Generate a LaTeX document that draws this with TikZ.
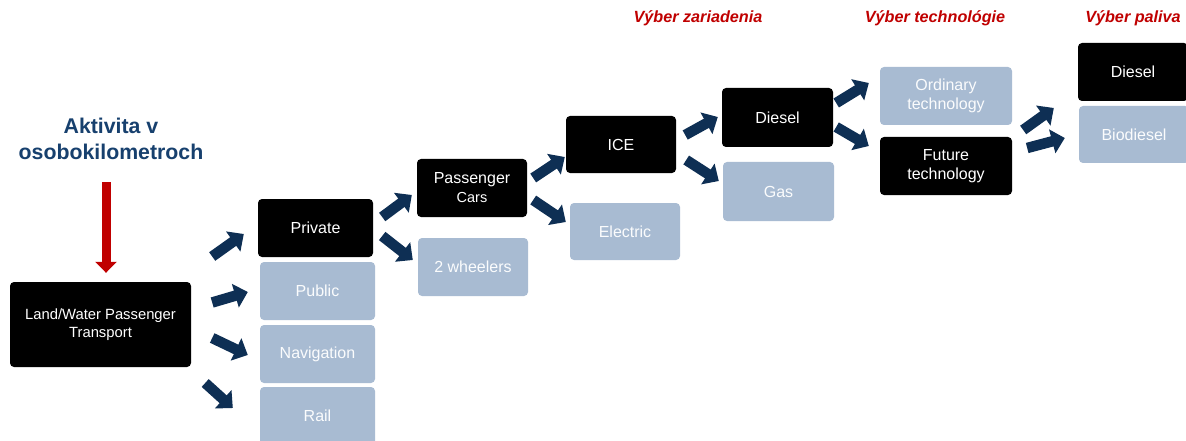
\documentclass[tikz,border=0pt]{standalone}
\usepackage{fontspec}
\setmainfont{Liberation Sans}
\usetikzlibrary{arrows.meta,calc}
\definecolor{navyarr}{RGB}{14,47,84}
\definecolor{lightbox}{RGB}{168,187,210}
\definecolor{hdrred}{RGB}{192,0,0}
\definecolor{aktblue}{RGB}{23,64,110}
\tikzset{
  box/.style={rounded corners=4pt, inner sep=0pt, align=center, text=white,
    font=\fontsize{16}{19}\selectfont},
  bk/.style={box, fill=black},
  lt/.style={box, fill=lightbox, text=white!96!lightbox},
  blk/.style={draw=navyarr, line width=10.5pt, -{Triangle[width=24pt,length=13pt]}},
  redarr/.style={draw=hdrred, line width=9pt, -{Triangle[width=21pt,length=11pt]}},
  hdr/.style={text=hdrred, font=\fontsize{16.2}{19}\selectfont\bfseries\itshape, inner sep=0pt}
}
\begin{document}
\begin{tikzpicture}[x=1pt,y=-1pt]
\clip (0,0) rectangle (1186,441);
\fill[white] (0,0) rectangle (1186,441);

% headers
\node[hdr] (h1) at (698,18) {Výber zariadenia};
\node[hdr] (h2) at (935,18) {Výber technológie};
\node[hdr] (h3) at (1133,18) {Výber paliva};

% activity label
\node[align=center, text=aktblue, inner sep=0pt,
  font=\fontsize{21.3}{26}\selectfont\bfseries] (akt) at (111,139) {Aktivita v\\osobokilometroch};

% boxes
\node[bk, minimum width=181pt, minimum height=85pt, font=\fontsize{14.8}{18}\selectfont] (lw) at (100.5,324.5) {Land/Water Passenger\\Transport};
\node[bk, minimum width=115pt, minimum height=58pt] (priv) at (315.5,228) {Private};
\node[lt, minimum width=115pt, minimum height=58pt] (pub) at (317.5,291) {Public};
\node[lt, minimum width=115pt, minimum height=58pt] (nav) at (317.5,354) {Navigation};
\node[lt, minimum width=115pt, minimum height=58pt] (rail) at (317.5,416) {Rail};
\node[bk, minimum width=110pt, minimum height=58pt] (pc) at (472,188) {Passenger\\{\fontsize{14.5}{19}\selectfont Cars}};
\node[lt, minimum width=110pt, minimum height=58pt] (tw) at (473,267) {2 wheelers};
\node[bk, minimum width=110pt, minimum height=57pt] (ice) at (621,144.5) {ICE};
\node[lt, minimum width=110pt, minimum height=57pt] (elec) at (625,231.5) {Electric};
\node[bk, minimum width=111pt, minimum height=59pt] (dsl) at (777.5,117.5) {Diesel};
\node[lt, minimum width=111pt, minimum height=59pt] (gas) at (778.5,191.5) {Gas};
\node[lt, minimum width=132pt, minimum height=58pt] (ord) at (946,96) {Ordinary\\technology};
\node[bk, minimum width=132pt, minimum height=58pt] (fut) at (946,166) {Future\\technology};
\node[bk, minimum width=110pt, minimum height=58pt] (fd) at (1133,72) {Diesel};
\node[lt, minimum width=110pt, minimum height=57pt] (bio) at (1134,134.5) {Biodiesel};

% red arrow
\draw[redarr] ($(akt.south)+(-5,22)$) -- ($(lw.north)+(5.5,-9)$);

% navy block arrows
\draw[blk] ($(lw.east)+(21,-68)$) -- ($(priv.west)+(-14,6)$);
\draw[blk] ($(lw.east)+(21,-22)$) -- ($(pub.west)+(-12,1)$);
\draw[blk] ($(lw.east)+(21,13.5)$) -- ($(nav.west)+(-12,1)$);
\draw[blk] ($(lw.east)+(14,58.5)$) -- ($(rail.west)+(-27,-8)$);

\draw[blk] ($(priv.east)+(9,-11)$) -- ($(pc.west)+(-5,7)$);
\draw[blk] ($(priv.east)+(9,8)$) -- ($(tw.west)+(-5,-7)$);

\draw[blk] ($(pc.east)+(6,-10)$) -- ($(ice.west)+(-1,12.5)$);
\draw[blk] ($(pc.east)+(6,12)$) -- ($(elec.west)+(-4,-9.5)$);

\draw[blk] ($(ice.east)+(9,-9.5)$) -- ($(dsl.west)+(-4,-0.5)$);
\draw[blk] ($(ice.east)+(10,15.5)$) -- ($(gas.west)+(-4,-10.5)$);

\draw[blk] ($(dsl.east)+(3,-14.5)$) -- ($(ord.west)+(-11,-13)$);
\draw[blk] ($(dsl.east)+(3,9.5)$) -- ($(fut.west)+(-11,-20)$);

\draw[blk] ($(fut.east)+(11,-36)$) -- ($(fd.west)+(-24,36)$);
\draw[blk] ($(fut.east)+(15,-18)$) -- ($(bio.west)+(-14,3.5)$);
\end{tikzpicture}
\end{document}
